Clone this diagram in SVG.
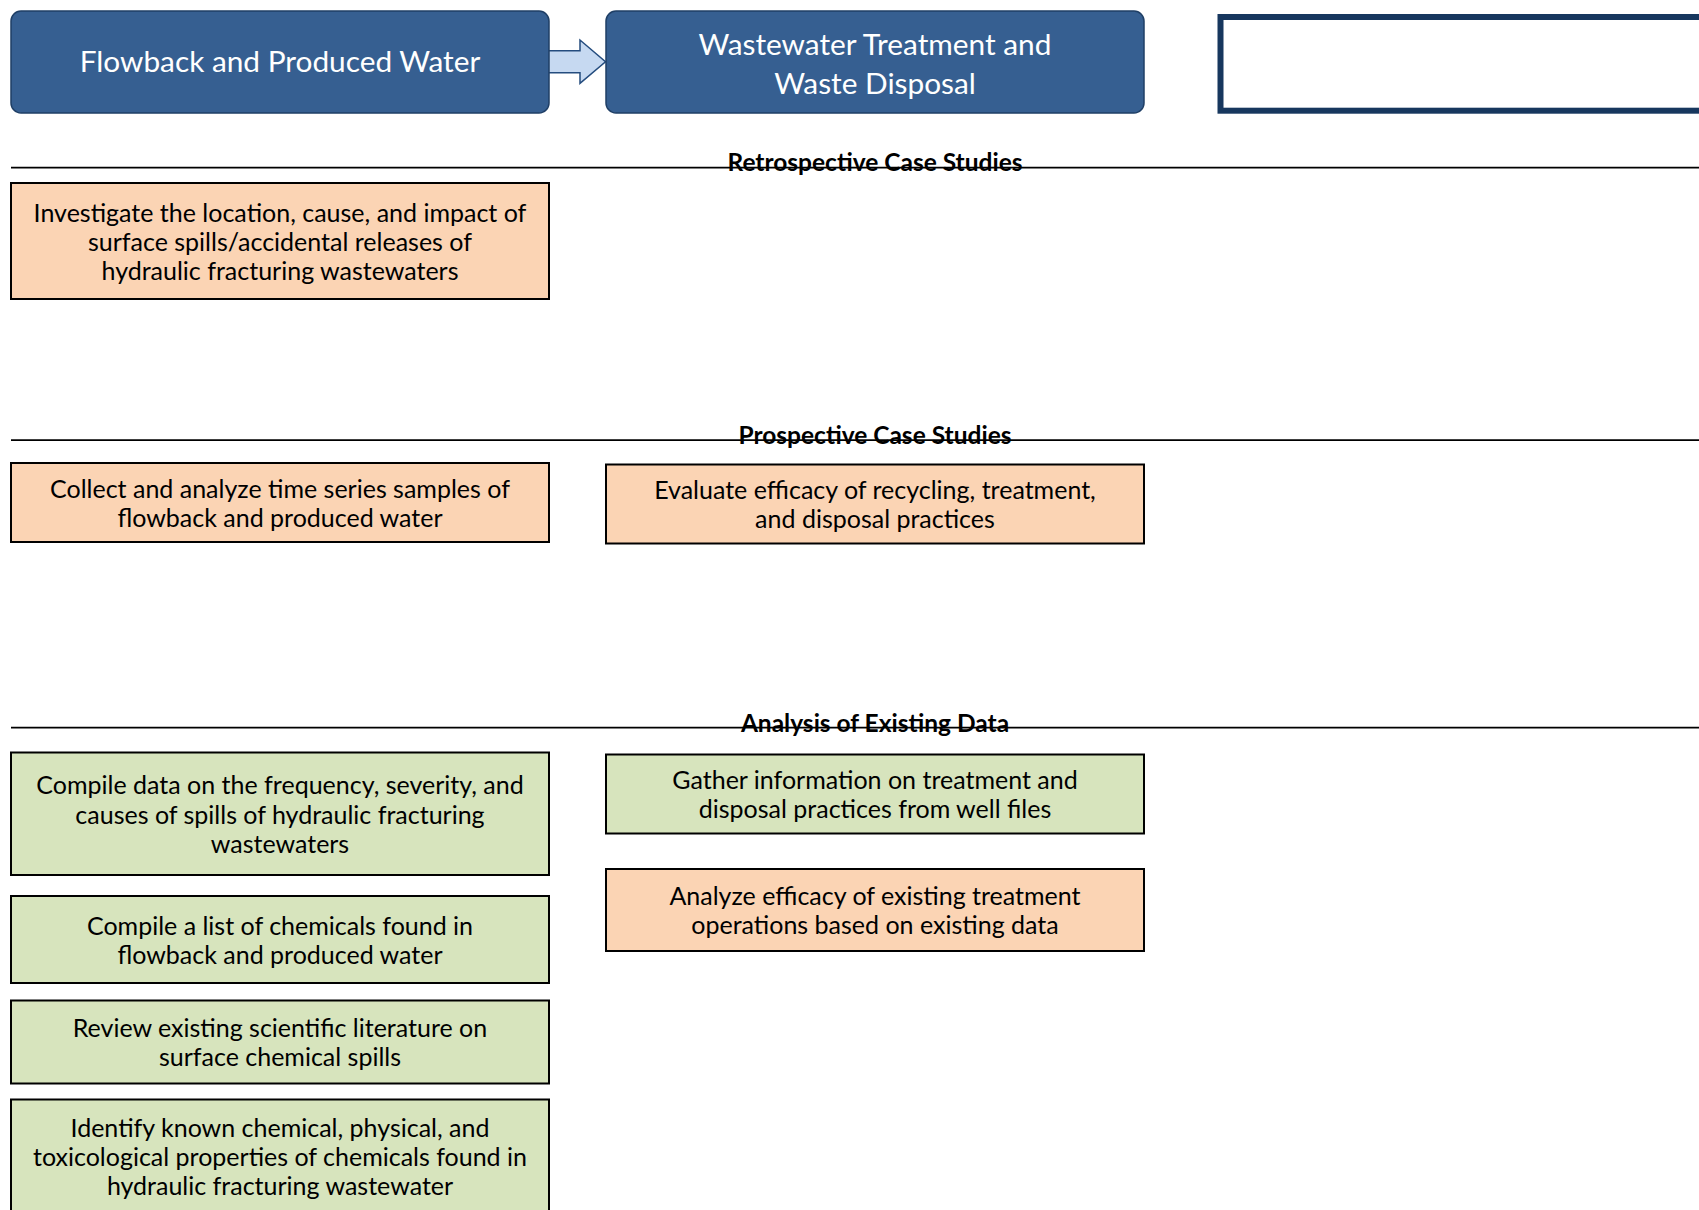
<svg xmlns="http://www.w3.org/2000/svg" width="1699" height="1210" viewBox="0 0 1699 1210">
<style>
  .title { fill: #365F91; stroke: #1F3F66; stroke-width: 1.5; }
  .titletxt { font-family: Lato, "Open Sans", sans-serif; font-size: 29.8px; fill: #FFFFFF; text-anchor: middle; }
  .peach { fill: #FBD4B4; stroke: #000000; stroke-width: 2; }
  .green { fill: #D7E4BD; stroke: #000000; stroke-width: 2; }
  .txt { font-family: Lato, "Open Sans", sans-serif; font-size: 25px; fill: #000000; text-anchor: middle; }
  .hdr { font-family: Lato, "Open Sans", sans-serif; font-size: 24.5px; font-weight: bold; fill: #000000; text-anchor: middle; }
  .sep { stroke: #000000; stroke-width: 1.75; }
</style>
<rect x="0" y="0" width="1699" height="1210" fill="#FFFFFF"/>

<g id="connectors">
  <path d="M548,50.7 L580,50.7 L580,40 L605.5,61.7 L580,83.3 L580,72.7 L548,72.7 Z" fill="#C6D9F1" stroke="#244C7E" stroke-width="1.5"/>
</g>

<g id="node-flowback">
  <rect class="title" x="11" y="11" width="538" height="102" rx="10"/>
  <text class="titletxt" x="280" y="71.7">Flowback and Produced Water</text>
</g>

<g id="node-wastewater">
  <rect class="title" x="606" y="11" width="538" height="102" rx="10"/>
  <text class="titletxt" x="875" y="55">Wastewater Treatment and</text>
  <text class="titletxt" x="875" y="94">Waste Disposal</text>
</g>

<g id="node-blank">
  <rect x="1220.5" y="17" width="500" height="93.7" fill="#FFFFFF" stroke="#17375E" stroke-width="6"/>
</g>

<g id="section-retrospective">
  <line class="sep" x1="11" y1="167.5" x2="1699" y2="167.5"/>
  <text class="hdr" x="875" y="171">Retrospective Case Studies</text>
</g>

<g id="node-investigate">
  <rect class="peach" x="11" y="183" width="538" height="116"/>
  <text class="txt" x="280" y="221.5">Investigate the location, cause, and impact of</text>
  <text class="txt" x="280" y="250.7">surface spills/accidental releases of</text>
  <text class="txt" x="280" y="279.9">hydraulic fracturing wastewaters</text>
</g>

<g id="section-prospective">
  <line class="sep" x1="11" y1="440" x2="1699" y2="440"/>
  <text class="hdr" x="875" y="443.5">Prospective Case Studies</text>
</g>

<g id="node-collect">
  <rect class="peach" x="11" y="463" width="538" height="79"/>
  <text class="txt" x="280" y="497.7">Collect and analyze time series samples of</text>
  <text class="txt" x="280" y="526.9">flowback and produced water</text>
</g>

<g id="node-evaluate">
  <rect class="peach" x="606" y="464.5" width="538" height="79"/>
  <text class="txt" x="875" y="499.2">Evaluate efficacy of recycling, treatment,</text>
  <text class="txt" x="875" y="528.4">and disposal practices</text>
</g>

<g id="section-analysis">
  <line class="sep" x1="11" y1="727.5" x2="1699" y2="727.5"/>
  <text class="hdr" x="875" y="732">Analysis of Existing Data</text>
</g>

<g id="node-compile-data">
  <rect class="green" x="11" y="752.5" width="538" height="122.5"/>
  <text class="txt" x="280" y="794.3">Compile data on the frequency, severity, and</text>
  <text class="txt" x="280" y="823.5">causes of spills of hydraulic fracturing</text>
  <text class="txt" x="280" y="852.7">wastewaters</text>
</g>

<g id="node-gather">
  <rect class="green" x="606" y="754.5" width="538" height="79"/>
  <text class="txt" x="875" y="789.2">Gather information on treatment and</text>
  <text class="txt" x="875" y="818.4">disposal practices from well files</text>
</g>

<g id="node-analyze">
  <rect class="peach" x="606" y="869" width="538" height="82"/>
  <text class="txt" x="875" y="905.2">Analyze efficacy of existing treatment</text>
  <text class="txt" x="875" y="934.4">operations based on existing data</text>
</g>

<g id="node-compile-list">
  <rect class="green" x="11" y="896" width="538" height="87"/>
  <text class="txt" x="280" y="934.7">Compile a list of chemicals found in</text>
  <text class="txt" x="280" y="963.9">flowback and produced water</text>
</g>

<g id="node-review">
  <rect class="green" x="11" y="1000.5" width="538" height="83"/>
  <text class="txt" x="280" y="1037.2">Review existing scientific literature on</text>
  <text class="txt" x="280" y="1066.4">surface chemical spills</text>
</g>

<g id="node-identify">
  <rect class="green" x="11" y="1099.5" width="538" height="130"/>
  <text class="txt" x="280" y="1136.8">Identify known chemical, physical, and</text>
  <text class="txt" x="280" y="1166">toxicological properties of chemicals found in</text>
  <text class="txt" x="280" y="1195.2">hydraulic fracturing wastewater</text>
</g>
</svg>
